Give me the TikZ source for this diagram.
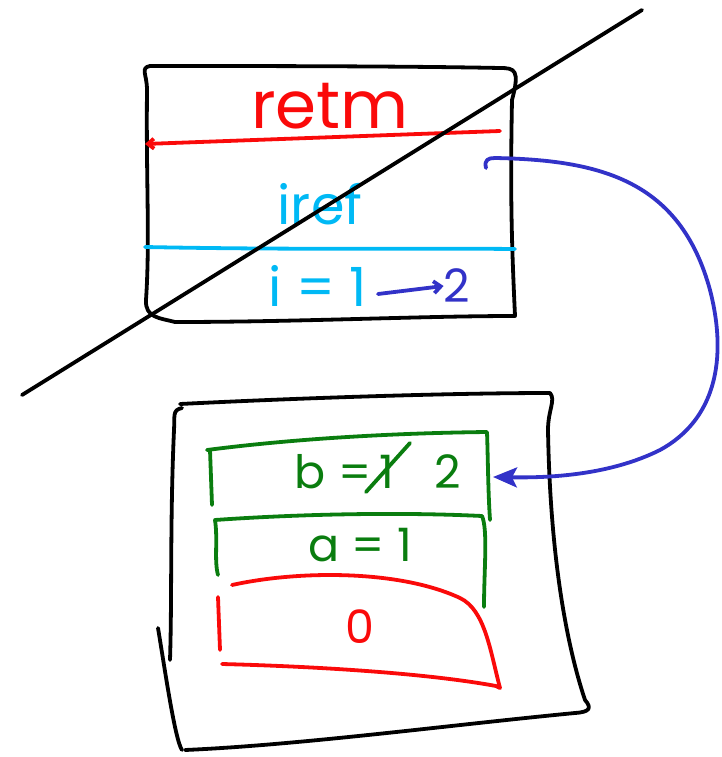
\documentclass[tikz,border=0pt]{standalone}
\usepackage{fontspec}
\setmainfont{Poppins}
\usetikzlibrary{arrows.meta}
\definecolor{inkred}{RGB}{250,10,10}
\definecolor{inkcyan}{RGB}{0,185,245}
\definecolor{inkblue}{RGB}{50,50,200}
\definecolor{inkgreen}{RGB}{10,125,15}
\tikzset{
  ink/.style={line width=3.8pt, line cap=round, line join=round},
  blackink/.style={ink, draw=black},
  redink/.style={ink, draw=inkred},
  cyanink/.style={ink, draw=inkcyan},
  blueink/.style={ink, draw=inkblue},
  greenink/.style={ink, draw=inkgreen},
  lbl/.style={inner sep=0pt},
  big/.style={lbl, font=\fontsize{66}{66}\selectfont},
  mid/.style={lbl, font=\fontsize{54}{54}\selectfont},
  sml/.style={lbl, font=\fontsize{46}{46}\selectfont},
}
\begin{document}
\begin{tikzpicture}[x=1pt,y=-1pt]
\useasboundingbox (0,0) rectangle (722,757);
% ---- top frame ----
\draw[blackink] (150,66) .. controls (140,68) and (147,74) .. (147,90)
  .. controls (146,180) and (150,240) .. (146,300)
  .. controls (145,318) and (160,318) .. (175,322)
  .. controls (300,322) and (420,316) .. (515,316)
  .. controls (512,250) and (510,200) .. (512,100)
  .. controls (520,70) and (515,68) .. (500,68)
  .. controls (400,66) and (250,66) .. (150,66);
\node[big, text=inkred] (retm) at (330,106) {retm};
\coordinate (rA) at (500,131);
\coordinate (rB) at (145,144);
\draw[redink, -{Straight Barb[length=6pt,width=10pt]}] (rA) -- (rB);
\node[mid, text=inkcyan] (iref) at (320,204) {iref};
\coordinate (cA) at (145,247);
\coordinate (cB) at (515,249);
\draw[cyanink] (cA) .. controls (300,250) and (400,248) .. (cB);
\node[mid, text=inkcyan] (ione) at (318,286) {i = 1};
\node[sml, text=inkblue] (itwo) at (457,286) {2};
\draw[blueink, -{Straight Barb[length=7pt,width=12pt]}] (378,294) -- (itwo.west);
% ---- cross-out diagonal ----
\coordinate (dA) at (22,395);
\coordinate (dB) at (642,10);
\draw[blackink] (dA) -- (dB);
% ---- bottom frame ----
\draw[blackink] (182,408) .. controls (172,410) and (175,416) .. (174,430)
  .. controls (170,520) and (172,600) .. (170,660);
\draw[blackink] (180,404) .. controls (300,398) and (450,393) .. (550,393)
  .. controls (556,400) and (548,410) .. (548,430)
  .. controls (550,550) and (565,640) .. (585,700)
  .. controls (592,708) and (590,712) .. (575,713)
  .. controls (450,725) and (300,745) .. (185,750);
\draw[blackink] (158,628) .. controls (165,670) and (175,740) .. (182,750);
% ---- b box ----
\draw[greenink] (212,505) -- (210,450) -- (207,450)
  .. controls (300,438) and (400,433) .. (487,432)
  .. controls (488,460) and (488,490) .. (490,520);
\node[sml, text=inkgreen] (bval) at (333,472) {b =};
\node[sml, text=inkgreen] (bold) at (387,472) {1};
\node[sml, text=inkgreen] (bnew) at (448,472) {2};
\draw[greenink] (366,492) -- (410,443);
% ---- a box ----
\draw[greenink] (218,575) .. controls (214,560) and (218,540) .. (215,520)
  .. controls (300,514) and (400,512) .. (482,516)
  .. controls (488,530) and (484,570) .. (484,607);
\node[sml, text=inkgreen] (aval) at (360,545) {a = 1};
% ---- 0 box ----
\draw[redink] (232,585) .. controls (300,570) and (400,570) .. (460,598)
  .. controls (485,610) and (490,650) .. (500,688)
  -- (496,686) .. controls (420,672) and (300,666) .. (222,664);
\draw[redink] (218,597) -- (220,650);
\node[sml, text=inkred] (zero) at (360,627) {0};
% ---- pointer ----
\coordinate (pS) at (486,168);
\draw[blueink, -{Stealth[length=24pt,width=20pt,inset=5pt]}] (pS)
  .. controls (484,160) and (488,158) .. (495,158)
  .. controls (600,160) and (680,180) .. (710,290)
  .. controls (728,360) and (715,420) .. (660,450)
  .. controls (610,475) and (550,478) .. (493,477);
\end{tikzpicture}
\end{document}
